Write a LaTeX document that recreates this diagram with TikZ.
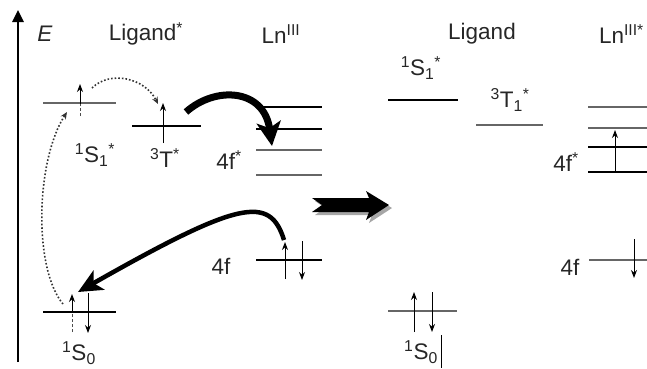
\documentclass[tikz,border=0pt]{standalone}
\usepackage{fontspec}
\setmainfont{Liberation Sans}
\usetikzlibrary{arrows.meta}
\begin{document}
\begin{tikzpicture}[x=1pt,y=-1pt,
  lvlthick/.style={line width=2.8pt,black},
  lvlthin/.style={line width=1.3pt,black!60},
  spin/.style={line width=1pt,-{Stealth[length=8pt,width=6pt]}},
  spindash/.style={line width=1pt,dash pattern=on 3pt off 2pt,black!70},
  dotarr/.style={line width=1.6pt,dotted,black!80,-{Stealth[length=7pt,width=6pt]}},
  lab/.style={font=\fontsize{22.5}{26}\selectfont,inner sep=0pt,text=black!85}]
\useasboundingbox (0,0) rectangle (647,368);
% energy axis
\coordinate (axb) at (18,362);
\coordinate (axt) at (18,10);
\draw[line width=2.5pt,-{Triangle[length=12pt,width=11pt]}] (axb) -- (axt);
\node[lab] (E) at (45,34) {\itshape E};
\node[lab] (lig1) at (146,34) {Ligand\textsuperscript{*}};
\node[lab] (ln1) at (281,34) {Ln\textsuperscript{III}};
\node[lab] (lig2) at (482,34) {Ligand};
\node[lab,anchor=east] (ln2) at (644,34) {Ln\textsuperscript{III*}};

% left ligand levels
\draw[lvlthin] (43,103) coordinate (s1l) -- (116,103) coordinate (s1r);
\coordinate (s1a) at (80,116); \coordinate (s1b) at (80,84);
\draw[spindash] (s1a) -- (80,103);
\draw[spin] (80,104) -- (s1b);
\node[lab] (s1lab) at (95,155) {\textsuperscript{1}S\textsubscript{1}\textsuperscript{*}};

\draw[lvlthick] (132,126) coordinate (t1l) -- (201,126) coordinate (t1r);
\coordinate (ta) at (163,143); \coordinate (tb) at (163,103);
\draw[spin] (ta) -- (tb);
\node[lab] (tlab) at (165,158) {\textsuperscript{3}T\textsuperscript{*}};

% dotted ISC arrow
\coordinate (d1s) at (92,88); \coordinate (d1e) at (158,104);
\draw[dotarr] (d1s) .. controls (110,70) and (145,78) .. (d1e);

% Ln III levels
\draw[lvlthick] (256,107) -- (322,107);
\draw[lvlthick] (256,129) -- (322,129);
\draw[lvlthin] (256,150) -- (322,150);
\draw[lvlthin] (256,175) -- (322,175);
\node[lab] (f1s) at (229,160) {4f\textsuperscript{*}};

% energy transfer arrow (top)
\coordinate (et1s) at (186,112); \coordinate (et1e) at (272,146);
\draw[line width=7pt,-{Stealth[length=24pt,width=24pt,inset=6pt]}] (et1s) .. controls (215,86) and (264,88) .. (et1e);

% 4f ground
\draw[lvlthick] (256,260) -- (322,260);
\draw[spin] (285,279) -- (285,242);
\draw[spin] (302,241) -- (302,280);
\node[lab] (f1) at (221,266) {4f};

% back transfer arrow
\coordinate (bts) at (284,240); \coordinate (bte) at (78,292);
\draw[line width=4.5pt,-{Stealth[length=24pt,width=22pt,inset=6pt]}] (bts) .. controls (270,195) and (240,200) .. (bte);

% S0 left
\draw[lvlthick] (43,312) -- (116,312);
\draw[spindash] (72,332) -- (72,312);
\draw[spin] (72,313) -- (72,294);
\draw[spin] (88,293) -- (88,333);
\node[lab] (s0lab) at (79,353) {\textsuperscript{1}S\textsubscript{0}};

% dotted excitation
\coordinate (d2s) at (63,304); \coordinate (d2e) at (67,112);
\draw[dotarr] (d2s) .. controls (33,268) and (36,160) .. (d2e);

% block arrow
\fill[black!35] (315,201) -- (372,201) -- (369,194) -- (392,208) -- (369,223) -- (372,215) -- (315,215) -- (325,208) -- cycle;
\fill[black] (312,198) -- (369,198) -- (366,191) -- (389,205) -- (366,220) -- (369,212) -- (312,212) -- (322,205) -- cycle;

% right ligand
\node[lab] (s1rlab) at (421,68) {\textsuperscript{1}S\textsubscript{1}\textsuperscript{*}};
\draw[lvlthick] (388,100) -- (458,100);
\node[lab] (t1rlab) at (510,100) {\textsuperscript{3}T\textsubscript{1}\textsuperscript{*}};
\draw[lvlthin] (476,125) -- (543,125);

% right Ln levels
\draw[lvlthin] (588,107) -- (647,107);
\draw[lvlthin] (588,128) -- (647,128);
\draw[lvlthick] (588,147) -- (647,147);
\draw[lvlthick] (588,172) -- (647,172);
\draw[spin] (615,171) -- (615,130);
\node[lab] (f2s) at (566,162) {4f\textsuperscript{*}};

\node[lab] (f2) at (570,267) {4f};
\draw[lvlthin] (589,260) -- (647,260);
\draw[spin] (634,239) -- (634,278);

% right S0
\draw[lvlthin] (388,311) -- (457,311);
\draw[spin] (414,332) -- (414,292);
\draw[spin] (432,292) -- (432,332);
\node[lab] (s0rlab) at (421,352) {\textsuperscript{1}S\textsubscript{0}};
\draw[line width=1pt] (441,335) -- (441,368);
\end{tikzpicture}
\end{document}
